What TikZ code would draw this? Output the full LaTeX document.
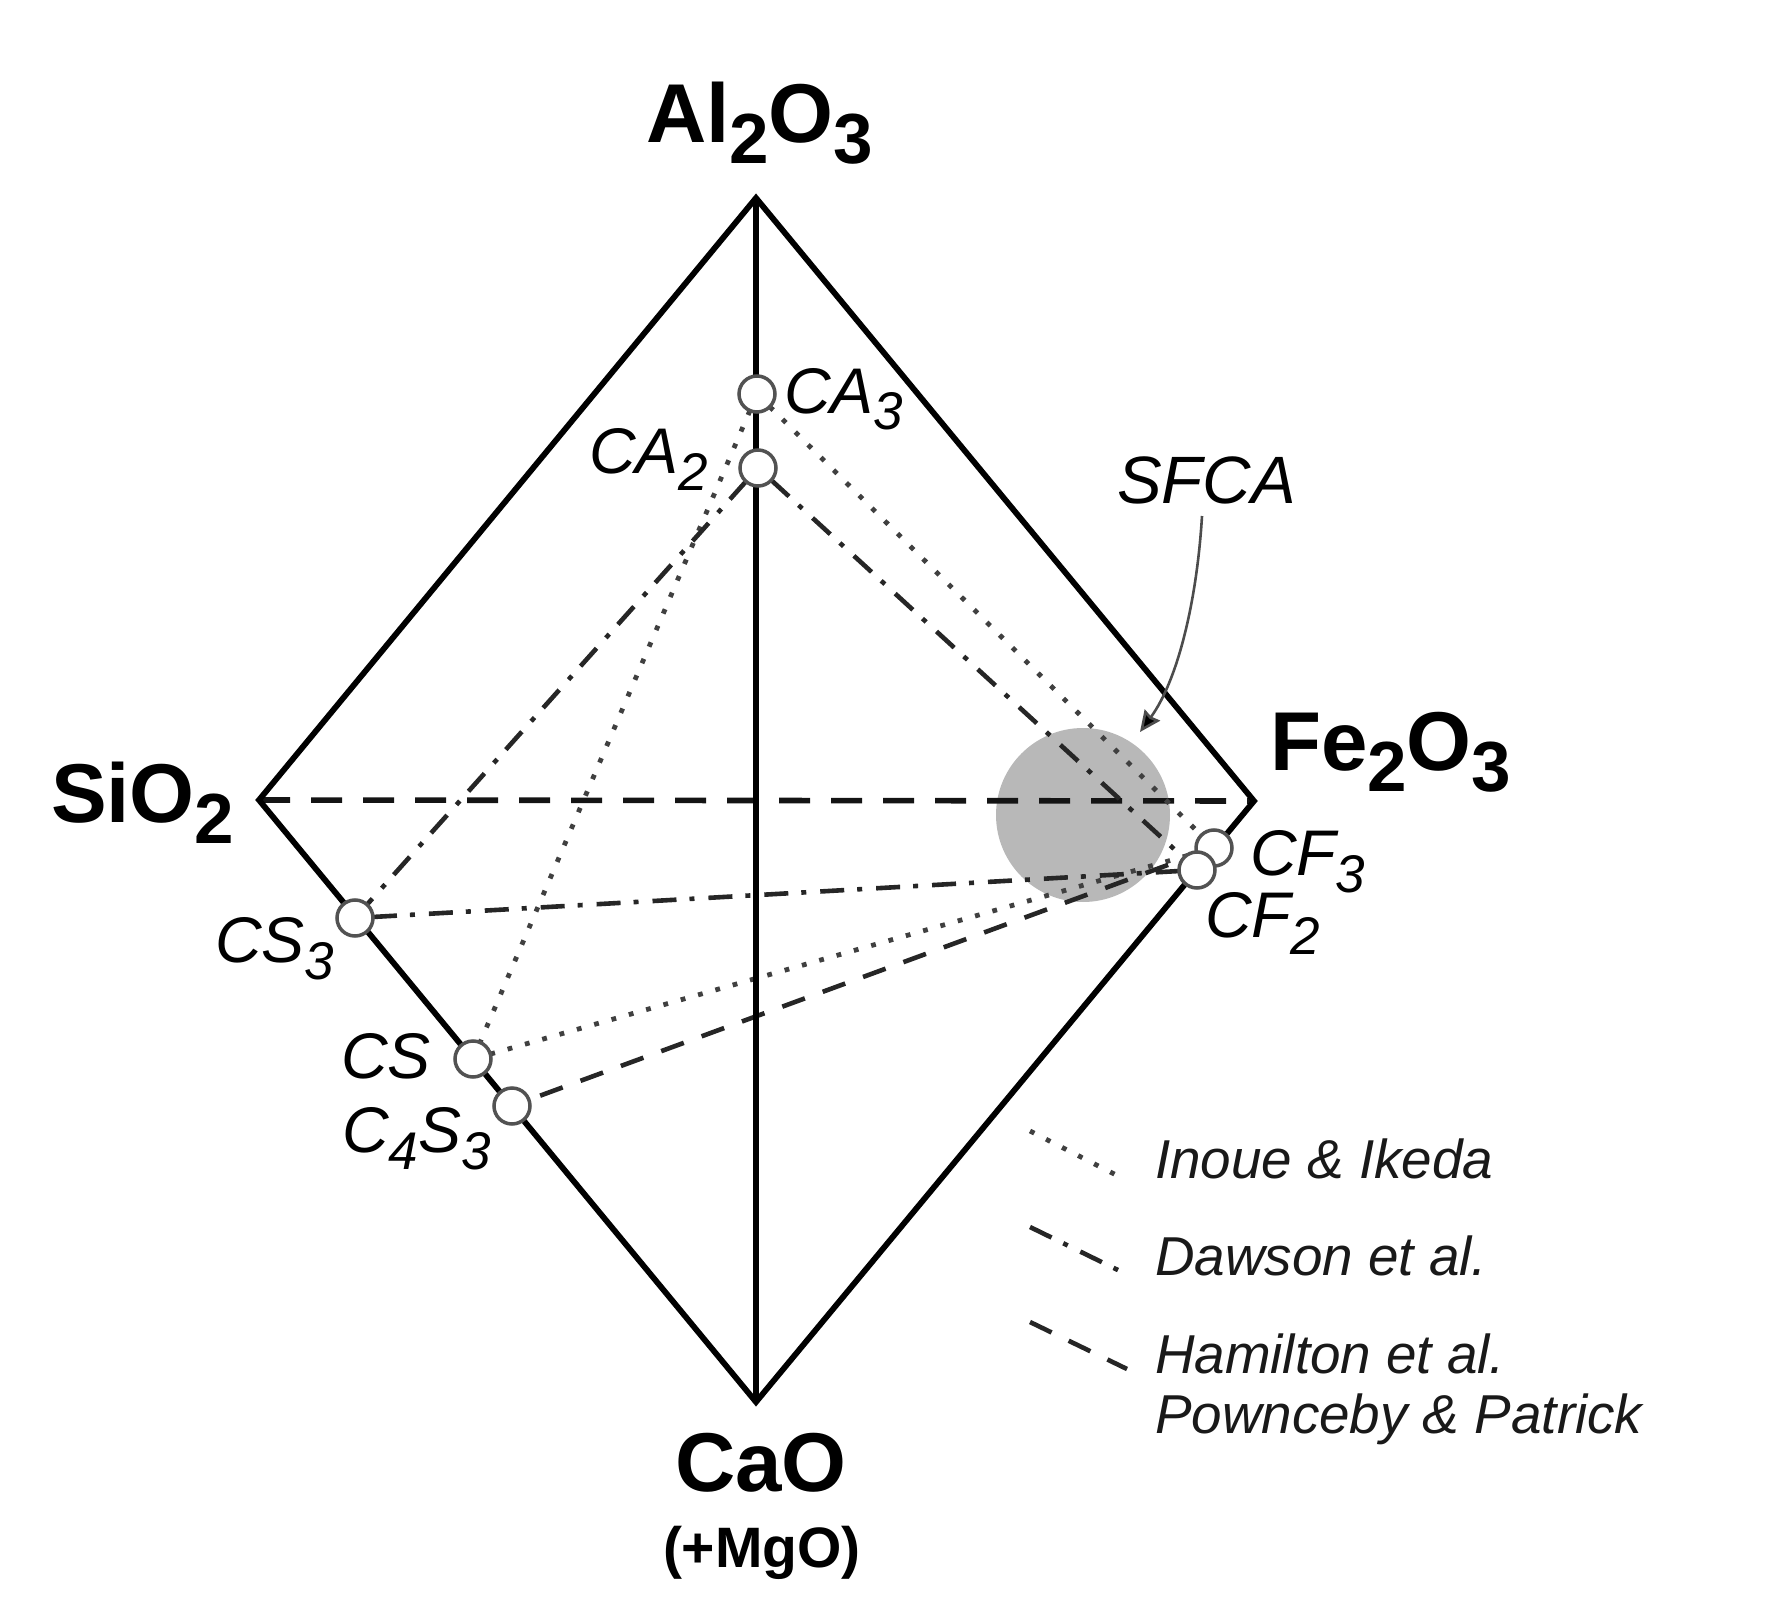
\documentclass[tikz,border=0pt]{standalone}
\usepackage{fontspec}
\setmainfont{Liberation Sans}
\usetikzlibrary{arrows.meta,backgrounds}
\newcommand{\boldlab}[1]{\fontsize{83.5}{90}\selectfont\bfseries #1}
\newcommand{\boldlow}[1]{\raisebox{-21pt}{\fontsize{71}{72}\selectfont\bfseries #1}}
\newcommand{\itlab}[1]{\fontsize{64.5}{70}\selectfont\itshape #1}
\newcommand{\itlow}[1]{\raisebox{-17pt}{\fontsize{53}{60}\selectfont\itshape #1}}
\tikzset{
  x=1pt,y=-1pt,
  txt/.style={anchor=base west,inner sep=0pt,outer sep=0pt,text=black},
  phase/.style={circle,draw=black!68,line width=3.5pt,fill=white,minimum size=36pt,inner sep=0pt,outer sep=0pt},
  edge/.style={draw=black,line width=5.8pt,line join=miter},
  hidden/.style={draw=black!92,line width=5.6pt,dash pattern=on 31pt off 21pt},
  inoue/.style={draw=black!75,line width=4.8pt,dash pattern=on 4.8pt off 13.2pt},
  dawson/.style={draw=black!85,line width=4.6pt,dash pattern=on 24pt off 13pt on 5pt off 14pt},
  hamilton/.style={draw=black!85,line width=4.6pt,dash pattern=on 24pt off 19pt,dash phase=31pt},
  pointer/.style={draw=black!70,line width=2.6pt,-{Stealth[length=21pt,width=19pt,inset=2pt,fill=black]}},
  legtxt/.style={txt,text=black!90,font=\fontsize{54.8}{60}\selectfont\itshape},
}
\begin{document}
\begin{tikzpicture}
\useasboundingbox (0,0) rectangle (1765,1605);
% vertices
\coordinate (top) at (756,198);
\coordinate (left) at (259,800);
\coordinate (right) at (1254,801);
\coordinate (bottom) at (756,1402);
% phase points
\node[phase] (CAthree) at (757,394) {};
\node[phase] (CAtwo) at (758,468) {};
\node[phase] (CSthree) at (355,918) {};
\node[phase] (CSone) at (473,1059) {};
\node[phase] (CfourS) at (512,1106) {};
\node[phase] (CFthree) at (1214,848) {};
\node[phase] (CFtwo) at (1197,870) {};
% labels
\node[txt] (al) at (646,143) {\boldlab{Al\boldlow{2}O\boldlow{3}}};
\node[txt] (fe) at (1270,770) {\boldlab{Fe\boldlow{2}O\boldlow{3}}};
\node[txt] (si) at (51,822) {\boldlab{SiO\boldlow{2}}};
\node[txt] (ca) at (675,1491) {\boldlab{CaO}};
\node[txt,font=\fontsize{57}{60}\selectfont\bfseries] (mg) at (663,1567) {(+MgO)};
\node[txt] (lCAthree) at (784,413) {\itlab{CA\itlow{3}}};
\node[txt] (lCAtwo) at (589,473) {\itlab{CA\itlow{2}}};
\node[txt] (lCFthree) at (1250,875) {\itlab{CF\itlow{3}}};
\node[txt] (lCFtwo) at (1205,937) {\itlab{CF\itlow{2}}};
\node[txt] (lCSthree) at (215,962) {\itlab{CS\itlow{3}}};
\node[txt] (lCSone) at (341,1078) {\itlab{CS}};
\node[txt] (lCfourS) at (342,1152) {\itlab{C\itlow{4}S\itlow{3}}};
\node[txt,font=\fontsize{67}{70}\selectfont\itshape] (lSFCA) at (1117,503) {SFCA};
\coordinate (arrowstart) at (1202,516);
\coordinate (arrowtip) at (1140,732);
\draw[pointer] (arrowstart) .. controls (1197,600) and (1178,680) .. (arrowtip);
% legend
\coordinate (la) at (1030,1131); \coordinate (lb) at (1122,1178);
\coordinate (lc) at (1030,1227); \coordinate (ld) at (1122,1272);
\coordinate (le) at (1030,1322); \coordinate (lf) at (1127,1369);
\draw[inoue] (la) -- (lb);
\draw[dawson] (lc) -- (ld);
\draw[hamilton,dash phase=0pt] (le) -- (lf);
\node[legtxt] (t1) at (1155,1178) {Inoue \& Ikeda};
\node[legtxt] (t2) at (1155,1275) {Dawson et al.};
\node[legtxt] (t3) at (1155,1373) {Hamilton et al.};
\node[legtxt] (t4) at (1155,1433) {Pownceby \& Patrick};
\begin{scope}[on background layer]
  \node[circle,fill=black!28,minimum size=174pt,inner sep=0pt] (sfcaregion) at (1083,815) {};
  \draw[hidden] (left) -- (right);
  \draw[inoue] (CAthree) -- (CSone);
  \draw[inoue] (CAthree) -- (CFthree);
  \draw[inoue] (CSone) -- (CFthree);
  \draw[dawson] (CAtwo) -- (CSthree);
  \draw[dawson] (CAtwo) -- (CFtwo);
  \draw[dawson] (CSthree) -- (CFtwo);
  \draw[hamilton] (CfourS) -- (CFthree);
  \draw[edge] (left) -- (top) -- (right) -- (bottom) -- cycle;
  \draw[edge] (top) -- (bottom);
\end{scope}
\end{tikzpicture}
\end{document}
